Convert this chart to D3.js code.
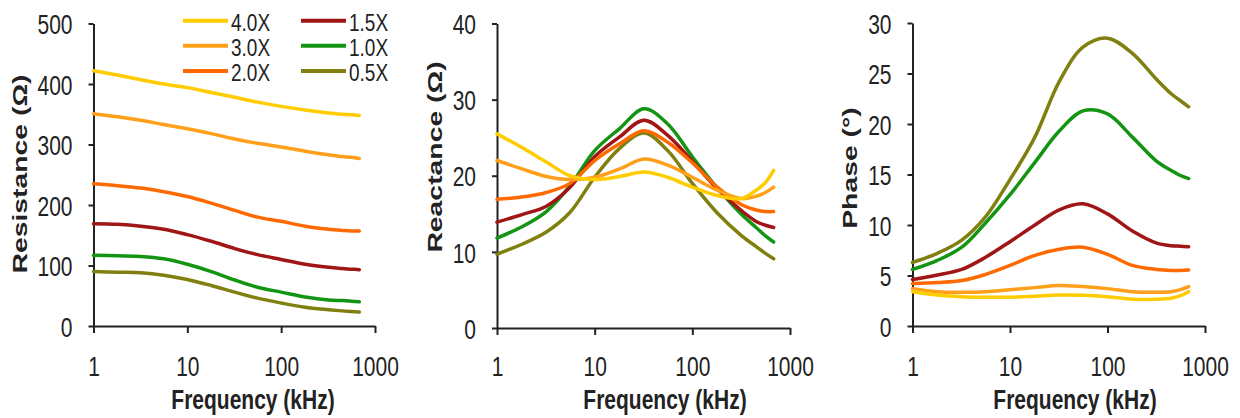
<!DOCTYPE html>
<html>
<head>
<meta charset="utf-8">
<script src="https://cdn.jsdelivr.net/npm/d3@7"></script>
<style>
  html, body { margin: 0; padding: 0; background: #fff; }
  svg { display: block; }
</style>
</head>
<body>
<div id="chart"></div>
<script>
// impedance spectra — resistance / reactance / phase vs frequency
// values (log x axis, 1 kHz .. ~680 kHz)

var frequencies = [1, 1.8, 3.2, 5.6, 10, 18, 32, 56, 100, 180, 320, 450, 560, 680];
var seriesNames = ['4.0X', '3.0X', '2.0X', '1.5X', '1.0X', '0.5X'];

// one row per series, same order as seriesNames
var resistance = [
  [422, 415, 407, 400, 394, 386, 378, 370, 363, 357, 352, 350, 349, 348],
  [351, 346, 340, 333, 326, 318, 309, 302, 296, 289, 283, 280, 279, 277],
  [235, 232, 228, 222, 214, 203, 191, 180, 173, 165, 160, 158, 157, 157],
  [169, 168, 165, 160, 151, 140, 128, 118, 110, 102, 97, 95, 94, 93],
  [117, 116, 115, 111, 102, 90, 76, 64, 56, 48, 43, 42, 41, 40],
  [90, 89, 88, 84, 77, 67, 56, 46, 38, 31, 27, 25, 24, 23]
];
var reactance = [
  [25.5, 23.7, 21.8, 20.0, 19.5, 19.9, 20.5, 19.8, 18.5, 17.4, 17.0, 18.1, 19.1, 20.7],
  [22.0, 20.9, 19.9, 19.5, 19.8, 20.9, 22.2, 21.4, 19.8, 18.1, 17.0, 17.3, 17.8, 18.5],
  [16.9, 17.2, 17.8, 19.0, 22.0, 24.2, 25.9, 24.4, 21.7, 18.5, 16.2, 15.5, 15.3, 15.3],
  [13.9, 14.9, 16.0, 18.5, 22.5, 25.1, 27.3, 25.3, 21.9, 18.3, 15.4, 14.0, 13.5, 13.2],
  [11.8, 13.3, 15.3, 18.7, 23.3, 26.2, 28.8, 26.8, 22.5, 18.4, 14.9, 13.2, 12.1, 11.3],
  [9.7, 11.0, 12.6, 15.2, 19.8, 23.6, 25.6, 23.3, 19.0, 15.1, 12.1, 10.7, 9.8, 9.1]
];
var phase = [
  [3.4, 3.07, 2.9, 2.84, 2.85, 2.95, 3.07, 3.05, 2.9, 2.65, 2.65, 2.75, 3.0, 3.4],
  [3.7, 3.4, 3.35, 3.4, 3.6, 3.8, 4.0, 3.9, 3.7, 3.4, 3.35, 3.4, 3.6, 3.9],
  [4.2, 4.3, 4.5, 5.1, 6.0, 7.0, 7.6, 7.8, 7.1, 6.0, 5.6, 5.5, 5.5, 5.55],
  [4.6, 5.05, 5.6, 6.8, 8.35, 10.0, 11.5, 12.1, 11.1, 9.4, 8.2, 7.95, 7.9, 7.85],
  [5.6, 6.5, 7.8, 10.2, 13.0, 16.2, 19.3, 21.3, 21.0, 18.7, 16.3, 15.4, 14.9, 14.6],
  [6.3, 7.2, 8.5, 10.8, 14.5, 18.7, 24.2, 27.6, 28.5, 27.0, 24.4, 23.0, 22.3, 21.7]
];

var freqTicks = [1, 10, 100, 1000];
var resistanceTicks = [0, 100, 200, 300, 400, 500];
var reactanceTicks = [0, 10, 20, 30, 40];
var phaseTicks = [0, 5, 10, 15, 20, 25, 30];

var seriesColors = ['#FFCC00', '#FF9F1A', '#FF6A00', '#A01515', '#139513', '#808010'];

// the source image is stretched vertically, text is squeezed to match
var STRETCH = 1.35;
var FONT = '"Liberation Sans", Arial, sans-serif';
var INK = '#222';

var panels = [
  { values: resistance, yTicks: resistanceTicks, yMax: 500, yTitle: 'Resistance (\u03A9)',
    xRange: [93.5, 375], yRange: [326, 23.5], xTitleX: 253, yTitlePos: [27, 174] },
  { values: reactance, yTicks: reactanceTicks, yMax: 40, yTitle: 'Reactance (\u03A9)',
    xRange: [497, 790], yRange: [328, 23.5], xTitleX: 665, yTitlePos: [442, 157] },
  { values: phase, yTicks: phaseTicks, yMax: 30, yTitle: 'Phase (\u00B0)',
    xRange: [912.5, 1205], yRange: [326, 23], xTitleX: 1075, yTitlePos: [857, 168] }
];

var svg = d3.select('#chart').append('svg')
  .attr('width', 1240)
  .attr('height', 418)
  .attr('font-family', FONT);

panels.forEach(function (p, idx) { drawPanel(svg, p, idx === 0); });

function drawPanel(svg, p, withLegend) {
  var x = d3.scaleLog().domain([1, 1000]).range(p.xRange);
  var y = d3.scaleLinear().domain([0, p.yMax]).range(p.yRange);
  var g = svg.append('g');

  // axes
  var yAxis = g.append('g')
    .attr('transform', 'translate(' + p.xRange[0] + ',0)')
    .call(d3.axisLeft(y).tickValues(p.yTicks).tickSize(5).tickSizeOuter(0).tickPadding(16));
  var xAxis = g.append('g')
    .attr('transform', 'translate(0,' + p.yRange[0] + ')')
    .call(d3.axisBottom(x).tickValues(freqTicks).tickFormat(d3.format('d'))
      .tickSize(7).tickSizeOuter(0));

  [yAxis, xAxis].forEach(function (ax) {
    ax.attr('font-family', FONT);
    ax.select('.domain').attr('stroke', INK).attr('stroke-width', 2);
    ax.selectAll('.tick line').attr('stroke', INK).attr('stroke-width', 2);
    ax.selectAll('.tick text')
      .attr('fill', INK)
      .attr('font-size', 21);
  });
  yAxis.selectAll('.tick text')
    .attr('y', 0)
    .attr('dy', '0.36em')
    .attr('transform', 'scale(1,' + STRETCH + ')');
  xAxis.selectAll('.tick text')
    .attr('y', (376 - p.yRange[0]) / STRETCH)
    .attr('dy', 0)
    .attr('transform', 'scale(1,' + STRETCH + ')');

  // series lines — drawn from 0.5X up so the yellow ends on top
  var line = d3.line()
    .x(function (d, i) { return x(frequencies[i]); })
    .y(function (d) { return y(d); })
    .curve(d3.curveCatmullRom.alpha(0.5));

  var order = d3.range(seriesNames.length).reverse();
  g.append('g')
    .selectAll('path')
    .data(order)
    .join('path')
      .attr('d', function (i) { return line(p.values[i]); })
      .attr('fill', 'none')
      .attr('stroke', function (i) { return seriesColors[i]; })
      .attr('stroke-width', 3.5)
      .attr('stroke-linejoin', 'round')
      .attr('stroke-linecap', 'round');

  // axis titles
  g.append('text')
    .attr('transform', 'translate(' + p.xTitleX + ',409) scale(1,' + STRETCH + ')')
    .attr('text-anchor', 'middle')
    .attr('font-size', 21)
    .attr('font-weight', 'bold')
    .attr('fill', INK)
    .text('Frequency (kHz)');

  g.append('text')
    .attr('transform', 'translate(' + p.yTitlePos[0] + ',' + p.yTitlePos[1] + ') scale(1,' + STRETCH + ') rotate(-90)')
    .attr('text-anchor', 'middle')
    .attr('font-size', 21)
    .attr('font-weight', 'bold')
    .attr('fill', INK)
    .text(p.yTitle);

  if (withLegend) drawLegend(g);
}

function drawLegend(g) {
  var colX = [183, 301];
  var rowY = [20.7, 45.7, 71];
  var item = g.append('g')
    .selectAll('g')
    .data(seriesNames)
    .join('g')
      .attr('transform', function (d, i) {
        return 'translate(' + colX[Math.floor(i / 3)] + ',' + rowY[i % 3] + ')';
      });

  item.append('line')
    .attr('x1', 0).attr('x2', 45)
    .attr('stroke', function (d, i) { return seriesColors[i]; })
    .attr('stroke-width', 4);

  item.append('text')
    .attr('transform', 'translate(48,10) scale(1,1.25)')
    .attr('font-size', 19)
    .attr('fill', INK)
    .text(function (d) { return d; });
}
</script>
</body>
</html>
